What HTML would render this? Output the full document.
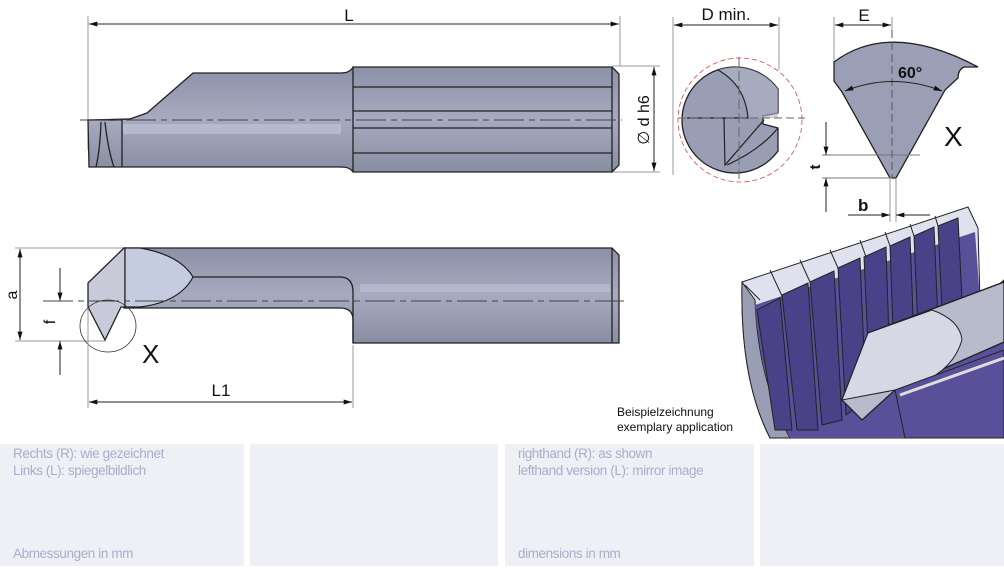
<!DOCTYPE html>
<html><head><meta charset="utf-8"><style>
html,body{margin:0;padding:0;background:#fff;}
body{width:1004px;height:573px;position:relative;overflow:hidden;font-family:"Liberation Sans",sans-serif;}
.p{position:absolute;top:444px;height:122px;background:#eff0f5;}
.t{position:absolute;font-size:13.5px;color:#a9aec8;font-family:"Liberation Sans Narrow","Liberation Sans",sans-serif;letter-spacing:-0.4px;}
svg{position:absolute;left:0;top:0;}
</style></head><body>
<div class="p" style="left:0;width:244px"></div>
<div class="p" style="left:250px;width:248px"></div>
<div class="p" style="left:505px;width:249px"></div>
<div class="p" style="left:760px;width:244px"></div>
<div class="t" style="left:13px;top:446px">Rechts (R): wie gezeichnet</div>
<div class="t" style="left:13px;top:463px">Links (L): spiegelbildlich</div>
<div class="t" style="left:13px;top:546px">Abmessungen in mm</div>
<div class="t" style="left:518px;top:446px">righthand (R): as shown</div>
<div class="t" style="left:518px;top:463px">lefthand version (L): mirror image</div>
<div class="t" style="left:518px;top:546px">dimensions in mm</div>
<svg width="1004" height="573" viewBox="0 0 1004 573">
<defs>
<marker id="a" viewBox="0 0 10 6" refX="10" refY="3" markerWidth="12" markerHeight="5" orient="auto-start-reverse" markerUnits="userSpaceOnUse"><path d="M0,0L10,3L0,6z" fill="#111"/></marker>
<linearGradient id="g" x1="0" y1="0" x2="0" y2="1"><stop offset="0" stop-color="#8c91a7"/><stop offset=".5" stop-color="#a6abc0"/><stop offset="1" stop-color="#888da2"/></linearGradient>
</defs>
<g stroke="#999" stroke-width="1" fill="none">
<line x1="88" y1="16" x2="88" y2="150"/>
<line x1="620" y1="16" x2="620" y2="66"/>
<line x1="612" y1="66" x2="660" y2="66"/>
<line x1="612" y1="172" x2="660" y2="172"/>
</g>
<line x1="89" y1="24" x2="619" y2="24" stroke="#222" marker-start="url(#a)" marker-end="url(#a)"/>
<line x1="654" y1="67" x2="654" y2="171" stroke="#222" marker-start="url(#a)" marker-end="url(#a)"/>
<text x="349" y="21" font-size="17" text-anchor="middle" fill="#111">L</text>
<text transform="translate(649,120) rotate(-90)" font-size="16" text-anchor="middle" fill="#111">∅ d h6</text>
<path d="M88,120 L130,119 L147,113 L193,73 L341,73 Q350,73 353,67 L612,67 L619,74 L619,165 L612,172 L353,172 Q350,167 341,167 L89,167 Z" fill="url(#g)" stroke="#222" stroke-width="1.3"/>
<rect x="123" y="124" width="218" height="10" fill="#c4c8da" opacity=".6"/>
<path d="M88,120 L122,120 L122,167 M101,122 Q100,150 96,167 M105,122 Q108,150 114,167 M353,67 L353,172 M612,67 L612,172 M353,87 L612,87 M353,111 L612,111 M353,128 L612,128 M353,153 L612,153" stroke="#222" stroke-width="1.3" fill="none"/>
<line x1="80" y1="120" x2="622" y2="120" stroke="#444" stroke-dasharray="30,5,6,5"/>
<line x1="673" y1="17" x2="673" y2="175" stroke="#999"/>
<line x1="779" y1="17" x2="779" y2="70" stroke="#999"/>
<line x1="674" y1="25" x2="778" y2="25" stroke="#222" marker-start="url(#a)" marker-end="url(#a)"/>
<text x="726" y="20" font-size="17" text-anchor="middle" fill="#111">D min.</text>
<circle cx="740" cy="120" r="62" fill="none" stroke="#d44" stroke-width=".8" stroke-dasharray="5,3"/>
<path d="M778,89 A53,53 0 1 0 778,151 L778,128 L763,124 L763,116 L778,113 Z" fill="#9a9eb4" stroke="#222" stroke-width="1.3"/>
<path d="M718,70 Q745,85 748,118 L778,118 L778,89 A53,53 0 0 0 718,70Z" fill="#b0b4c8" opacity=".6"/>
<path d="M718,70 Q745,85 748,118 L687,118 M724,118 L725,165 L764,120 M727,165 Q760,150 778,128" stroke="#222" stroke-width="1.2" fill="none"/>
<line x1="678" y1="118" x2="805" y2="118" stroke="#666" stroke-dasharray="8,4"/>
<line x1="739" y1="57" x2="739" y2="183" stroke="#666" stroke-dasharray="10,4"/>
<line x1="834" y1="17" x2="834" y2="62" stroke="#999"/>
<line x1="892" y1="17" x2="892" y2="30" stroke="#999"/>
<line x1="835" y1="25" x2="891" y2="25" stroke="#222" marker-start="url(#a)" marker-end="url(#a)"/>
<text x="864" y="21" font-size="17" text-anchor="middle" fill="#111">E</text>
<path d="M834,62 Q890,20 978,67 L964,67 Q958,70 958,78 L945,90 L896,178 L890,178 L842,92 L834,81 Z" fill="#9a9fb5" stroke="#222" stroke-width="1.3"/>
<line x1="892" y1="30" x2="892" y2="178" stroke="#555" stroke-dasharray="8,4"/>
<path d="M845,91 Q893,72 942,91" fill="none" stroke="#222" marker-start="url(#a)" marker-end="url(#a)"/>
<text x="898" y="78" font-size="16" font-weight="bold" fill="#111">60°</text>
<text x="944" y="146" font-size="28" fill="#111">X</text>
<line x1="822" y1="155" x2="920" y2="155" stroke="#777"/>
<line x1="822" y1="178" x2="892" y2="178" stroke="#777"/>
<line x1="826" y1="122" x2="826" y2="155" stroke="#222" marker-end="url(#a)"/>
<line x1="826" y1="212" x2="826" y2="178" stroke="#222" marker-end="url(#a)"/>
<text transform="translate(820,167) rotate(-90)" font-size="15" font-weight="bold" text-anchor="middle" fill="#111">t</text>
<line x1="890" y1="178" x2="890" y2="222" stroke="#999"/>
<line x1="896" y1="178" x2="896" y2="222" stroke="#999"/>
<line x1="848" y1="215" x2="890" y2="215" stroke="#222" marker-end="url(#a)"/>
<line x1="930" y1="215" x2="896" y2="215" stroke="#222" marker-end="url(#a)"/>
<text x="858" y="211" font-size="17" font-weight="bold" fill="#111">b</text>
<!-- thread picture -->
<path d="M742,282 L968,207 L978,228 L980,300 L1004,280 L1004,438 L770,438 Q740,380 742,282 Z" fill="#dfe1ee" stroke="#222"/>
<path d="M742,282 Q740,380 770,438 L790,438 Q758,380 755,300 Z" fill="#9a9eb4" stroke="#222"/>
<path d="M755,305 L975,232 L980,300 L1004,290 L1004,438 L790,438 Q760,380 755,305Z" fill="#5a5099"/>
<g fill="#4a4288" stroke="#222" stroke-width="1">
<path d="M757,310 L780,298 L792,430 L775,430 Z"/>
<path d="M782,295 L808,283 L818,430 L797,430 Z"/>
<path d="M810,282 L834,271 L842,420 L822,425 Z"/>
<path d="M838,268 L860,258 L866,400 L846,415 Z"/>
<path d="M864,257 L886,247 L890,370 L870,390 Z"/>
<path d="M890,246 L910,237 L914,340 L894,355 Z"/>
<path d="M914,236 L934,227 L938,320 L918,330 Z"/>
<path d="M938,226 L958,218 L962,300 L942,310 Z"/>
</g>
<path d="M745,285 L760,300 M770,270 L782,296 M800,260 L810,282 M830,250 L838,268 M860,240 L866,257 M885,232 L890,246 M910,224 L914,236 M935,216 L938,226" stroke="#222"/>
<path d="M842,400 L868,333 L1004,282 L1004,342 L895,390 L862,420 Z" fill="#b7bbcc" stroke="#222" stroke-width="1.3"/>
<path d="M868,333 L932,310 Q960,320 962,340 Q950,380 895,390 L842,400 Z" fill="#d6d8e6" stroke="#222"/>
<path d="M895,390 L1004,350 L1004,438 L905,438 Z" fill="#5a5099" stroke="#222"/>
<path d="M900,395 L1004,358" stroke="#ddd" stroke-width="3"/>
<text x="617" y="416" font-size="12" fill="#111">Beispielzeichnung</text>
<text x="617" y="431" font-size="12" fill="#111">exemplary application</text>
<!-- bottom view -->
<line x1="15" y1="248" x2="124" y2="248" stroke="#999"/>
<line x1="15" y1="341" x2="105" y2="341" stroke="#999"/>
<line x1="20" y1="249" x2="20" y2="340" stroke="#222" marker-start="url(#a)" marker-end="url(#a)"/>
<text transform="translate(17,295) rotate(-90)" font-size="16" text-anchor="middle" fill="#111">a</text>
<line x1="60" y1="268" x2="60" y2="301" stroke="#222" marker-end="url(#a)"/>
<line x1="60" y1="375" x2="60" y2="341" stroke="#222" marker-end="url(#a)"/>
<text transform="translate(55,322) rotate(-90)" font-size="16" text-anchor="middle" fill="#111">f</text>
<path d="M124,248 L612,248 L619,255 L619,343 L353,343 L353,320 Q353,308 340,308 L124,308 Z" fill="url(#g)" stroke="#222" stroke-width="1.3"/>
<rect x="360" y="284" width="250" height="8" fill="#c4c8da" opacity=".5"/>
<path d="M193,277 L340,277 Q353,277 353,292 L353,343 M612,248 L612,343" stroke="#222" stroke-width="1.3" fill="none"/>
<path d="M124,248 L88,283 L88,307 L105,340 L121,307 L125,307 L125,248 Z" fill="#c9cad9" stroke="#222" stroke-width="1.3"/>
<path d="M125,248 L140,248 Q180,255 193,277 Q180,302 140,307 L125,307 Z" fill="#c6cce0" stroke="#222" stroke-width="1.2"/>
<line x1="43" y1="301" x2="624" y2="301" stroke="#444" stroke-dasharray="30,5,6,5"/>
<ellipse cx="108" cy="326" rx="28" ry="26" fill="none" stroke="#333" stroke-width=".8"/>
<text x="142" y="363" font-size="26" fill="#111">X</text>
<line x1="88" y1="308" x2="88" y2="408" stroke="#999"/>
<line x1="353" y1="345" x2="353" y2="408" stroke="#999"/>
<line x1="89" y1="402" x2="352" y2="402" stroke="#222" marker-start="url(#a)" marker-end="url(#a)"/>
<text x="221" y="396" font-size="17" text-anchor="middle" fill="#111">L1</text>
</svg>
</body></html>
